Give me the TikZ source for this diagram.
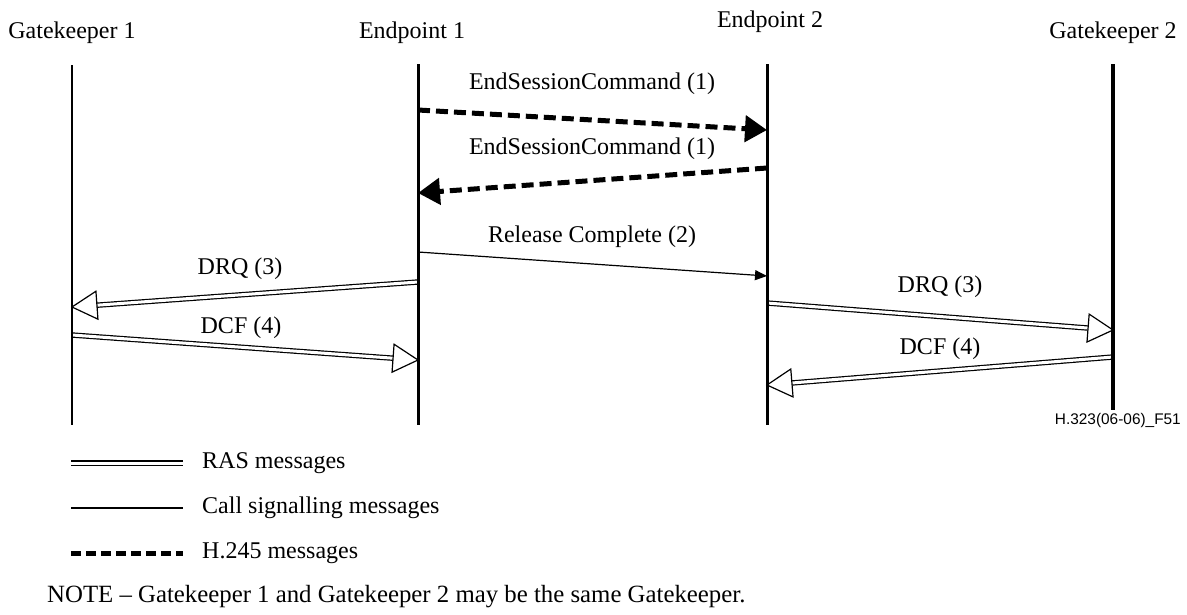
\documentclass[tikz,border=0pt]{standalone}
\usepackage{fontspec}
\setmainfont{Liberation Serif}
\newfontfamily\sansf{Liberation Sans}
\usetikzlibrary{arrows.meta,calc}
\tikzset{
  txt/.style={inner sep=0pt, font=\fontsize{24}{28}\selectfont},
  life/.style={line width=3pt},
  ras/.style={double, double distance=3pt, line width=1.2pt},
  call/.style={line width=1.2pt, -{Triangle[length=12pt,width=10pt]}},
  h245/.style={line width=5pt, dash pattern=on 12pt off 6pt, -{Triangle[length=22pt,width=26pt]}},
  rashead/.style={line width=1.2pt, fill=white, line join=miter}
}
\newcommand\rasmsg[2]{%
  \path ($(#2)!25pt!(#1)$) coordinate (rasbase);
  \draw[ras] (#1) -- (rasbase);
  \draw[rashead] (#2) -- ($(rasbase)!14pt!90:(#2)$) -- ($(rasbase)!14pt!-90:(#2)$) -- cycle;}
\begin{document}
\begin{tikzpicture}[x=1pt,y=-1pt]
\useasboundingbox (0,0) rectangle (1187,614);
% headers
\node[txt] (g1) at (72,33) {Gatekeeper 1};
\node[txt] (e1) at (412,33) {Endpoint 1};
\node[txt] (e2) at (770,22) {Endpoint 2};
\node[txt] (g2) at (1113,33) {Gatekeeper 2};
% lifeline coordinates
\coordinate (g1t) at (72,65);  \coordinate (g1b) at (72,425);
\coordinate (e1t) at (418,64); \coordinate (e1b) at (418,425);
\coordinate (e2t) at (767,64); \coordinate (e2b) at (767,425);
\coordinate (g2t) at (1113,64); \coordinate (g2b) at (1113,410);
% message end points
\coordinate (m1a) at (418,110); \coordinate (m1b) at (767,130);
\coordinate (m2a) at (767,168); \coordinate (m2b) at (418,193);
\coordinate (m3a) at (418,252); \coordinate (m3b) at (767,276);
\coordinate (m4a) at (418,282); \coordinate (m4b) at (72,307);
\coordinate (m5a) at (72,335);  \coordinate (m5b) at (418,360);
\coordinate (m6a) at (767,303); \coordinate (m6b) at (1113,330);
\coordinate (m7a) at (1113,357); \coordinate (m7b) at (767,385);
% messages
\draw[h245] (m1a) -- (m1b);
\node[txt] (l1) at (592,84) {EndSessionCommand (1)};
\draw[h245] (m2a) -- (m2b);
\node[txt] (l2) at (592,149) {EndSessionCommand (1)};
\draw[call] (m3a) -- (m3b);
\node[txt] (l3) at (592,237) {Release Complete (2)};
\rasmsg{m4a}{m4b}
\node[txt] (l4) at (240,269) {DRQ (3)};
\rasmsg{m5a}{m5b}
\node[txt] (l5) at (241,328) {DCF (4)};
\rasmsg{m6a}{m6b}
\node[txt] (l6) at (940,287) {DRQ (3)};
\rasmsg{m7a}{m7b}
\node[txt] (l7) at (940,349) {DCF (4)};
% lifelines
\draw[line width=2.5pt] (g1t) -- (g1b);
\draw[life] (e1t) -- (e1b);
\draw[life] (e2t) -- (e2b);
\draw[line width=4pt] (g2t) -- (g2b);
% figure id
\node[inner sep=0pt, anchor=east, font=\sansf\fontsize{15.4}{18}\selectfont] (fid) at (1181,421) {H.323(06-06)\_F51};
% legend
\coordinate (k1a) at (71,463); \coordinate (k1b) at (183,463);
\coordinate (k2a) at (71,508); \coordinate (k2b) at (183,508);
\coordinate (k3a) at (71,553); \coordinate (k3b) at (183,553);
\draw[ras] (k1a) -- (k1b);
\node[txt, anchor=west] (t1) at (202,463) {RAS messages};
\draw[line width=1.2pt] (k2a) -- (k2b);
\node[txt, anchor=west] (t2) at (202,508) {Call signalling messages};
\draw[line width=5pt, dash pattern=on 10pt off 5pt] (k3a) -- (k3b);
\node[txt, anchor=west] (t3) at (202,553) {H.245 messages};
\node[txt, anchor=west, font=\fontsize{24.8}{28}\selectfont] (note) at (47,597) {NOTE -- Gatekeeper 1 and Gatekeeper 2 may be the same Gatekeeper.};
\end{tikzpicture}
\end{document}
